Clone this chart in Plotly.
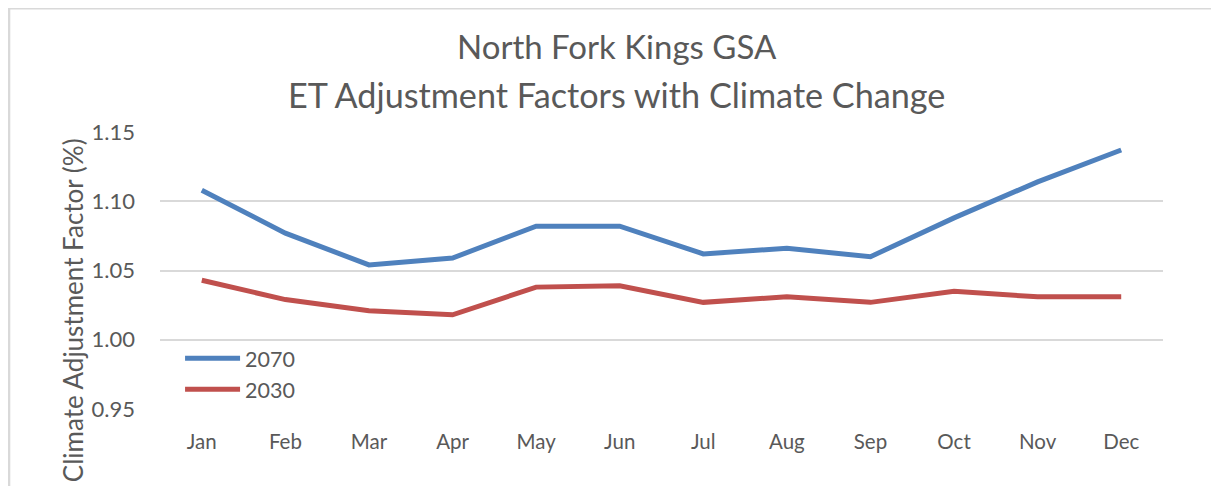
import plotly.graph_objects as go

# data
months = ["Jan", "Feb", "Mar", "Apr", "May", "Jun",
          "Jul", "Aug", "Sep", "Oct", "Nov", "Dec"]
factor_2070 = [1.108, 1.077, 1.054, 1.059, 1.082, 1.082,
               1.062, 1.066, 1.060, 1.088, 1.114, 1.137]
factor_2030 = [1.043, 1.029, 1.021, 1.018, 1.038, 1.039,
               1.027, 1.031, 1.027, 1.035, 1.031, 1.031]
y_ticks = [0.95, 1.00, 1.05, 1.10, 1.15]

grey = "#595959"
font_name = "Lato, Liberation Sans, Arial"

fig = go.Figure()
fig.add_trace(go.Scatter(x=months, y=factor_2070, name="2070", mode="lines",
                         line=dict(color="#4F81BD", width=5)))
fig.add_trace(go.Scatter(x=months, y=factor_2030, name="2030", mode="lines",
                         line=dict(color="#C0504D", width=5)))

# page body has an 8px margin, so the figure is drawn 8px smaller/offset
fig.update_layout(
    width=1211, height=478,
    margin=dict(l=152, r=56, t=124, b=77),
    paper_bgcolor="white", plot_bgcolor="white",
    font=dict(family=font_name, color=grey, size=20),
    showlegend=True,
    legend=dict(x=0.02, y=0.257, xanchor="left", yanchor="top",
                bgcolor="rgba(0,0,0,0)", font=dict(size=21.5, color=grey),
                itemwidth=55, tracegroupgap=0),
    xaxis=dict(type="category", range=[-0.5, 11.5], showgrid=False,
               showline=False, ticks="", ticklabelstandoff=18,
               tickfont=dict(size=20.5, color=grey)),
    yaxis=dict(range=[0.95, 1.15], tickvals=y_ticks, tickformat=".2f",
               showgrid=True, gridcolor="#D9D9D9", gridwidth=1.5,
               zeroline=False, showline=False, ticks="",
               ticklabelstandoff=24,
               tickfont=dict(size=22, color=grey)),
    annotations=[
        dict(text="North Fork Kings GSA", xref="paper", yref="paper",
             x=0.4556, y=1.31, xanchor="center", yanchor="middle",
             showarrow=False, font=dict(size=33, color=grey)),
        dict(text="ET Adjustment Factors with Climate Change", xref="paper",
             yref="paper", x=0.4556, y=1.136, xanchor="center",
             yanchor="middle", showarrow=False,
             font=dict(size=34.2, color=grey)),
        # y-axis title, placed lower than the plot centre as in the original
        dict(text="Climate Adjustment Factor (%)", xref="paper", yref="paper",
             x=-0.0867, y=0.357, xanchor="center", yanchor="middle",
             textangle=-90, showarrow=False,
             font=dict(size=26, color=grey)),
    ],
    shapes=[dict(type="rect", xref="paper", yref="paper",
                 x0=-0.1505, x1=1.2, y0=-0.5, y1=1.4465,
                 line=dict(color="#D9D9D9", width=2.5), layer="below")],
)

fig.write_html("out.html")
